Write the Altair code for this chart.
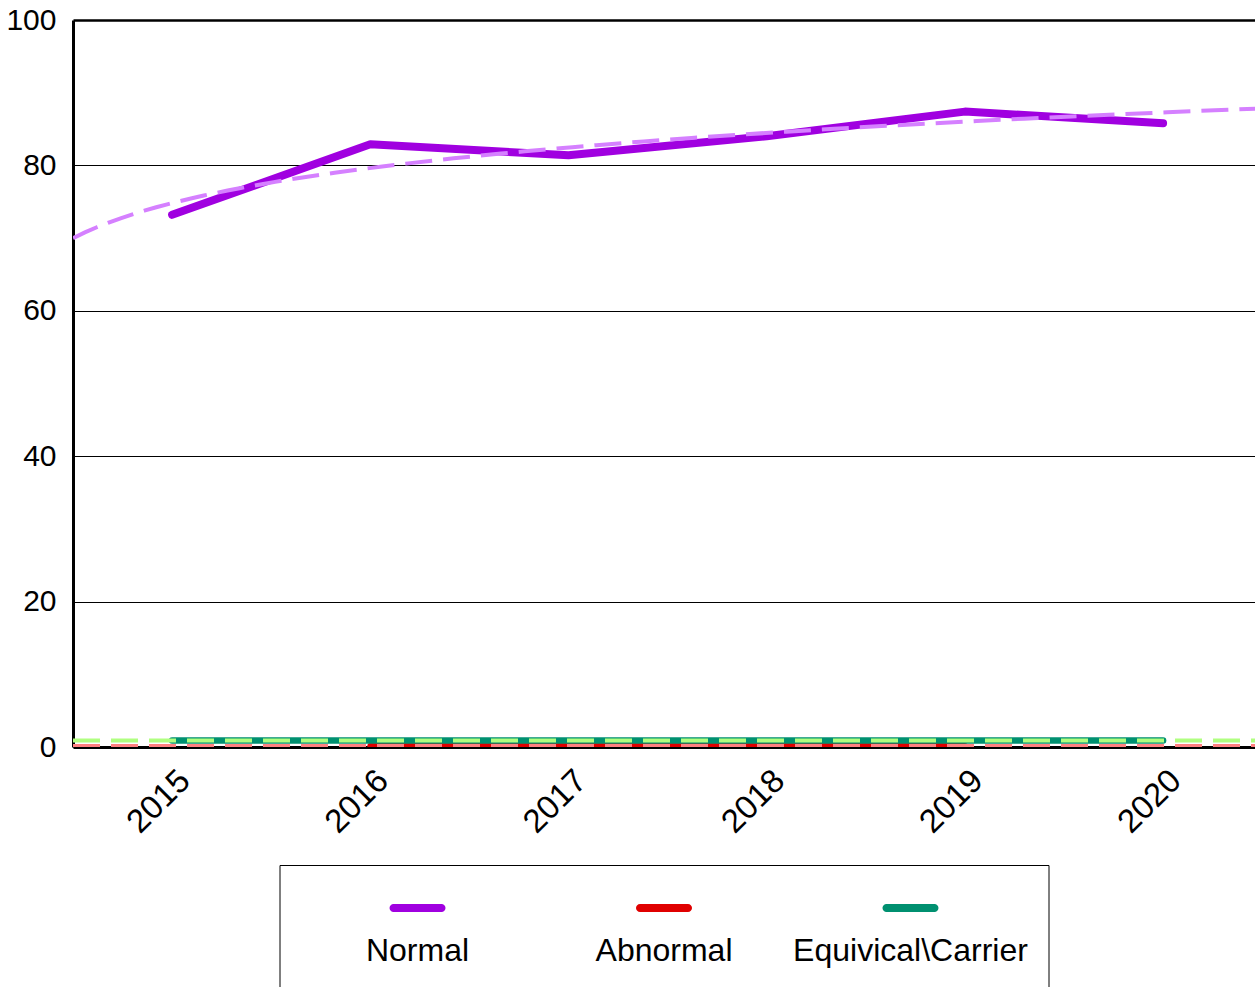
import altair as alt
import pandas as pd

# ---- data ----
years = [2015, 2016, 2017, 2018, 2019, 2020]
normal = [73.2, 82.9, 81.4, 84.0, 87.4, 85.8]
abnormal = [None, 0.15, 0.15, 0.15, 0.15, None]
equivocal = [0.9, 0.9, 0.9, 0.9, 0.9, 0.9]

series = ["Normal", "Abnormal", "Equivical\\Carrier"]
values = [normal, abnormal, equivocal]
line_colors = ["#a000e0", "#e00000", "#009070"]
trend_colors = ["#d580ff", "#ff8080", "#b0ff80"]
line_widths = [8, 6, 6.5]

y_ticks = [0, 20, 40, 60, 80, 100]

FONT = "Liberation Sans"

rows = []
for s, vals in zip(series, values):
    for yr, v in zip(years, vals):
        rows.append({"series": s, "year": yr, "pct": v})
df = pd.DataFrame(rows)

PLOT_W = 1182
STEP = 198.2  # pixel distance between years in the reference
x_lo = years[0] - 0.5
x_hi = x_lo + PLOT_W / STEP

x_scale = alt.Scale(domain=[x_lo, x_hi], nice=False, zero=False)
y_scale = alt.Scale(domain=[0, 100], nice=False)

x_axis = alt.Axis(values=years, format="d", labelAngle=-45, labelFontSize=33,
                  labelFont=FONT, labelColor="black", ticks=False, grid=False,
                  domainColor="black", domainWidth=3, labelPadding=17, labelOffset=1,
                  title=None)
y_axis = alt.Axis(values=y_ticks, labelFontSize=30, labelFont=FONT, labelColor="black",
                  ticks=False, grid=True, gridColor="black",
                  gridWidth={"condition": {"test": "datum.value === 100", "value": 2.5}, "value": 1},
                  domainColor="black", domainWidth=3, labelPadding=17, title=None)

base = alt.Chart(df)

layers = []
for s, c, w in zip(series, line_colors, line_widths):
    layers.append(
        base.transform_filter(alt.datum.series == s)
        .transform_filter("isValid(datum.pct)")
        .mark_line(color=c, strokeWidth=w, strokeCap="round", strokeJoin="round", clip=True)
        .encode(x=alt.X("year:Q", scale=x_scale, axis=x_axis),
                y=alt.Y("pct:Q", scale=y_scale, axis=y_axis))
    )

for s, c in zip(series, trend_colors):
    layers.append(
        base.transform_filter(alt.datum.series == s)
        .transform_filter("isValid(datum.pct)")
        .transform_calculate(idx=f"datum.year - {years[0] - 1}")
        .transform_regression("idx", "pct", method="log", extent=[0.5, len(years) + 0.5])
        .transform_calculate(year=f"datum.idx + {years[0] - 1}")
        .mark_line(color=c, strokeWidth=4, strokeDash=[27, 11], clip=True)
        .encode(x=alt.X("year:Q", scale=x_scale, axis=x_axis),
                y=alt.Y("pct:Q", scale=y_scale, axis=y_axis))
    )

main = alt.layer(*layers).properties(
    width=PLOT_W, height=727,
    view=alt.ViewBackground(stroke=None),
)

leg_df = pd.DataFrame({"series": series})
leg_x = alt.X("series:N", scale=alt.Scale(type="point", domain=series, padding=0.56), axis=None)
leg_color = alt.Color("series:N", scale=alt.Scale(domain=series, range=line_colors), legend=None)

leg_sym = alt.Chart(leg_df).mark_tick(orient="horizontal", thickness=8, cornerRadius=4,
                                      opacity=1).encode(
    x=leg_x, y=alt.value(43), size=alt.value(56), color=leg_color
)
leg_txt = alt.Chart(leg_df).mark_text(fontSize=32, font=FONT, color="black", baseline="middle").encode(
    x=leg_x, y=alt.value(86), text="series:N"
)
legend = alt.layer(leg_sym, leg_txt).properties(
    width=769, height=140,
    view=alt.ViewBackground(stroke="black", strokeWidth=1),
)

chart = alt.vconcat(main, legend, spacing=118, center=True, bounds="flush").properties(
    padding={"left": 5, "top": 5, "right": 0, "bottom": 5}
).configure(background="white")

chart.save("out.html", embed_options={"renderer": "svg", "actions": False})
